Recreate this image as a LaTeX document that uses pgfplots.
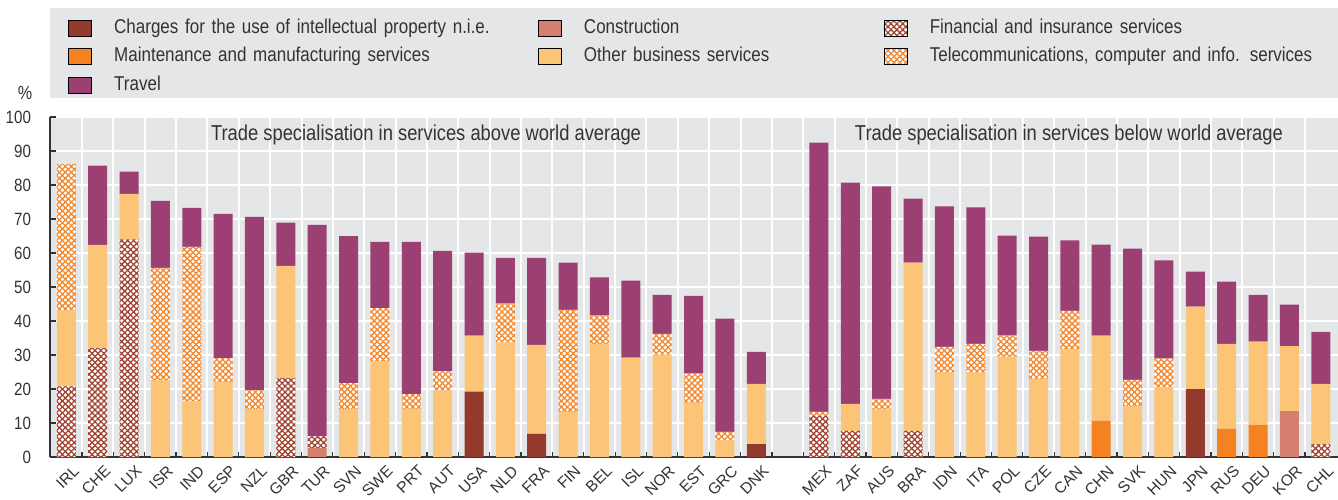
\documentclass[border=0pt]{standalone}
\usepackage{pgfplots}
\pgfplotsset{compat=1.18}
\usepackage{pgfplotstable}
\usepackage{fontspec}
\setmainfont{Liberation Sans}[FakeStretch=0.85]
\newfontfamily\plainsans{Liberation Sans}
\usetikzlibrary{patterns.meta,backgrounds}

\definecolor{bgc}{HTML}{E5E6E8}
\definecolor{txt}{HTML}{333333}
\definecolor{chc}{HTML}{933A2C}
\definecolor{mac}{HTML}{F58220}
\definecolor{coc}{HTML}{D5806F}
\definecolor{fic}{HTML}{A0422F}
\definecolor{obc}{HTML}{FBC477}
\definecolor{tec}{HTML}{F5872A}
\definecolor{trc}{HTML}{9C3F73}

% one row per country, gap at x=23
\pgfplotstableread{
x  lab charges maint constr fin  other tele travel
0  IRL 0    0    0    20.8 22.4 43.0 0
1  CHE 0    0    0    32.0 30.4 0    23.3
2  LUX 0    0    0    64.0 13.4 0    6.5
3  ISR 0    0    0    0    22.6 33.0 19.7
4  IND 0    0    0    0    16.4 45.4 11.5
5  ESP 0    0    0    0    22.0 7.1  42.4
6  NZL 0    0    0    0    14.1 5.5  51.0
7  GBR 0    0    0    23.2 33.0 0    12.7
8  TUR 0    0    2.7  3.4  0    0    62.2
9  SVN 0    0    0    0    14.1 7.6  43.3
10 SWE 0    0    0    0    28.2 15.6 19.5
11 PRT 0    0    0    0    14.1 4.4  44.8
12 AUT 0    0    0    0    19.6 5.6  35.4
13 USA 19.2 0    0    0    16.5 0    24.4
14 NLD 0    0    0    0    33.7 11.4 13.5
15 FRA 6.8  0    0    0    26.2 0    25.6
16 FIN 0    0    0    0    13.3 30.0 13.9
17 BEL 0    0    0    0    33.3 8.3  11.2
18 ISL 0    0    0    0    29.2 0    22.7
19 NOR 0    0    0    0    30.1 6.1  11.5
20 EST 0    0    0    0    15.9 8.6  22.9
21 GRC 0    0    0    0    5.0  2.4  33.3
22 DNK 3.8  0    0    0    17.7 0    9.4
24 MEX 0    0    0    12.1 0    1.2  79.2
25 ZAF 0    0    0    7.7  7.9  0    65.1
26 AUS 0    0    0    0    13.9 3.2  62.5
27 BRA 0    0    0    7.7  49.5 0    18.8
28 IDN 0    0    0    0    25.0 7.4  41.3
29 ITA 0    0    0    0    24.8 8.5  40.1
30 POL 0    0    0    0    29.5 6.2  29.4
31 CZE 0    0    0    0    23.0 8.2  33.6
32 CAN 0    0    0    0    31.8 11.2 20.7
33 CHN 0    10.6 0    0    25.1 0    26.8
34 SVK 0    0    0    0    15.0 7.7  38.6
35 HUN 0    0    0    0    20.6 8.3  28.9
36 JPN 20.0 0    0    0    24.2 0    10.3
37 RUS 0    8.3  0    0    25.0 0    18.3
38 DEU 0    9.4  0    0    24.5 0    13.8
39 KOR 0    0    13.5 0    19.1 0    12.2
40 CHL 0    0    0    3.8  17.7 0    15.3
}\data

\tikzset{
  hatch/.style={fill=white,
    postaction={pattern={Lines[angle=45,distance=2.1pt,line width=0.65pt]},pattern color=#1},
    postaction={pattern={Lines[angle=-45,distance=2.1pt,line width=0.65pt]},pattern color=#1}},
}

\begin{document}
\begin{tikzpicture}
\begin{axis}[
  scale only axis, width=644pt, height=170pt,
  ybar stacked, bar width=9.5pt,
  xmin=-0.52, xmax=40.55, ymin=0, ymax=100,
  axis x line*=bottom, axis y line*=left,
  axis line style={draw=txt, line width=0.6pt},
  axis background/.style={fill=bgc},
  font=\fontsize{9.5}{11}\selectfont,
  /pgf/number format/assume math mode=true,
  ytick={0,10,...,100},
  ymajorgrids, xminorgrids,
  major grid style={white, line width=1pt},
  minor grid style={white, line width=1pt},
  xtick=data, xticklabels from table={\data}{lab},
  minor xtick={0.5,1.5,...,39.5},
  tick align=inside,
  major tick length=3pt, minor tick length=2.5pt,
  tick style={draw=txt, line width=0.6pt},
  tick label style={text=txt, font=\fontsize{8.9}{11}\selectfont},
  y tick label style={xshift=-6pt},
  x tick label style={font=\plainsans\fontsize{7.8}{9}\selectfont,
    xshift=3pt, yshift=-3.5pt, rotate=45, anchor=north east, inner sep=0pt},
  ylabel={\%},
  ylabel style={rotate=-90, at={(axis description cs:0,1)}, anchor=center,
    xshift=-12.5pt, yshift=12pt, text=txt, font=\fontsize{9.5}{11}\selectfont},
  legend columns=3,
  legend image code/.code={\fill[#1] (0pt,-4pt) rectangle (11.5pt,4pt);},
  legend style={at={(0,1)}, anchor=south west, yshift=9.5pt,
    fill=none, draw=none, inner xsep=9pt, inner ysep=1.5pt,
    font=\fontsize{10}{12}\selectfont, text=txt,
    nodes={inner sep=0pt, text height=7pt, text depth=2pt},
    row sep=5.4pt,
    /tikz/every odd column/.style={column sep=11pt},
    /tikz/column 2/.style={text width=212pt},
    /tikz/column 4/.style={text width=150pt},
    /tikz/column 6/.style={text width=195.5pt}},
]
\addlegendimage{fill=chc}
\addlegendentry{Charges for the use of intellectual property n.i.e.}
\addlegendimage{fill=coc}
\addlegendentry{Construction}
\addlegendimage{hatch=fic}
\addlegendentry{Financial and insurance services}
\addlegendimage{fill=mac}
\addlegendentry{Maintenance and manufacturing services}
\addlegendimage{fill=obc}
\addlegendentry{Other business services}
\addlegendimage{hatch=tec}
\addlegendentry{Telecommunications, computer and info. services}
\addlegendimage{fill=trc}
\addlegendentry{Travel}

\addplot[fill=chc, draw=none, forget plot] table[x=x, y=charges] {\data};
\addplot[fill=mac, draw=none, forget plot] table[x=x, y=maint] {\data};
\addplot[fill=coc, draw=none, forget plot] table[x=x, y=constr] {\data};
\addplot[hatch=fic, draw=none, forget plot] table[x=x, y=fin] {\data};
\addplot[fill=obc, draw=none, forget plot] table[x=x, y=other] {\data};
\addplot[hatch=tec, draw=none, forget plot] table[x=x, y=tele] {\data};
\addplot[fill=trc, draw=none, forget plot] table[x=x, y=travel] {\data};

\node[text=txt, font=\fontsize{10.8}{12}\selectfont] at (axis cs:11.47,94.6)
  {Trade specialisation in services above world average};
\node[text=txt, font=\fontsize{10.8}{12}\selectfont] at (axis cs:31.97,94.6)
  {Trade specialisation in services below world average};

\coordinate (bl) at (rel axis cs:0,0);
\coordinate (tr) at (rel axis cs:1,1);
\end{axis}
\begin{scope}[on background layer]
\fill[bgc] (bl |- tr) ++(0pt,9.5pt) rectangle ++(644pt,45pt);
\end{scope}
\pgfresetboundingbox
\path ([shift={(-25pt,-21pt)}]bl) rectangle ([shift={(0pt,58.5pt)}]tr);
\end{tikzpicture}
\end{document}
